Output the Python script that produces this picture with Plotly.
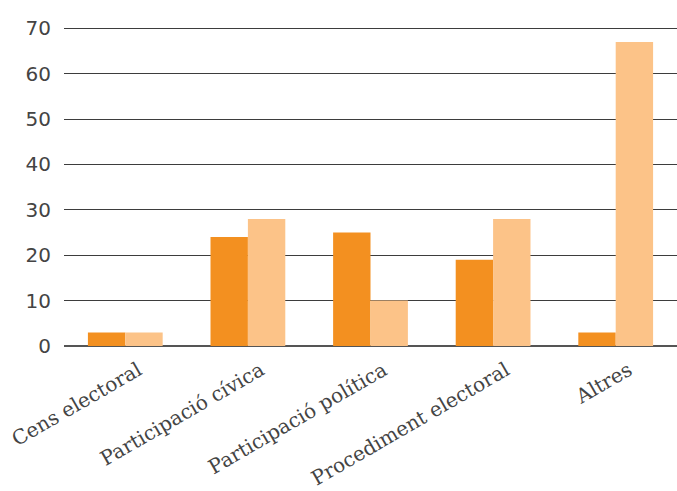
import plotly.graph_objects as go

categories = ["Cens electoral", "Participació cívica", "Participació política",
              "Procediment electoral", "Altres"]
series_a = [3, 24, 25, 19, 3]
series_b = [3, 28, 10, 28, 67]
y_ticks = [0, 10, 20, 30, 40, 50, 60, 70]

fig = go.Figure()
fig.add_trace(go.Bar(x=categories, y=series_a, marker=dict(color="#F39020", line=dict(width=0)), name="A"))
fig.add_trace(go.Bar(x=categories, y=series_b, marker=dict(color="#FCC388", line=dict(width=0)), name="B"))

fig.update_layout(
    width=677, height=491,
    margin=dict(l=64, r=0, t=27, b=145, autoexpand=False),
    paper_bgcolor="white", plot_bgcolor="white",
    barmode="group", bargap=0.39, bargroupgap=0,
    showlegend=False,
    font=dict(family="DejaVu Serif", color="#3a3a3a", size=18),
)
fig.update_yaxes(
    range=[0, 70.3], tickvals=y_ticks, showgrid=True, gridcolor="#3d3d3d", gridwidth=1.3,
    zeroline=True, zerolinecolor="#555555", zerolinewidth=2.2,
    tickfont=dict(family="DejaVu Sans", size=20, color="#444444"),
    ticklabelstandoff=12, showline=False, automargin=False,
)
fig.update_xaxes(
    tickangle=-30, tickfont=dict(family="DejaVu Serif", size=20, color="#444444"),
    showline=False, ticks="", automargin=False,
    ticklabelshift=13, ticklabelstandoff=8,
)
fig.write_html("out.html", config={"displayModeBar": False},
               post_script="document.body.style.margin='0';document.body.style.overflow='hidden';")
